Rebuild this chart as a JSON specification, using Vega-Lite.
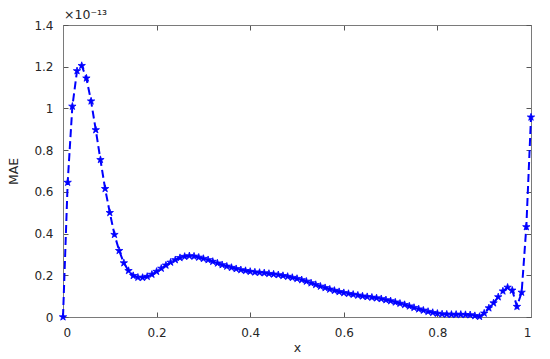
{
  "$schema": "https://vega.github.io/schema/vega-lite/v6.json",
  "width": 468,
  "height": 292,
  "autosize": "none",
  "padding": {"left": 63, "top": 25, "right": 19, "bottom": 42},
  "background": "white",
  "title": {"text": "×10⁻¹³", "anchor": "start", "frame": "group", "fontSize": 12.5, "fontWeight": "normal", "font": "DejaVu Sans", "color": "#262626", "offset": -2, "dx": 1},
  "config": {
    "view": {"stroke": "#7a7a7a", "strokeWidth": 1},
    "axis": {
      "domainColor": "#7a7a7a",
      "tickColor": "#555555",
      "grid": false,
      "labelFont": "DejaVu Sans",
      "labelFontSize": 12,
      "labelColor": "#262626",
      "titleFont": "DejaVu Sans",
      "titleFontSize": 12.5,
      "titleFontWeight": "normal",
      "titleColor": "#262626",
      "tickSize": -5
    }
  },
  "data": {"values": [
    {"x": 0.00, "mae": 0},
    {"x": 0.01, "mae": 0.645},
    {"x": 0.02, "mae": 1.01},
    {"x": 0.03, "mae": 1.18},
    {"x": 0.04, "mae": 1.205},
    {"x": 0.05, "mae": 1.145},
    {"x": 0.06, "mae": 1.035},
    {"x": 0.07, "mae": 0.897},
    {"x": 0.08, "mae": 0.754},
    {"x": 0.09, "mae": 0.615},
    {"x": 0.10, "mae": 0.50},
    {"x": 0.11, "mae": 0.395},
    {"x": 0.12, "mae": 0.318},
    {"x": 0.13, "mae": 0.259},
    {"x": 0.14, "mae": 0.222},
    {"x": 0.15, "mae": 0.198},
    {"x": 0.16, "mae": 0.190},
    {"x": 0.17, "mae": 0.189},
    {"x": 0.18, "mae": 0.194},
    {"x": 0.19, "mae": 0.204},
    {"x": 0.20, "mae": 0.218},
    {"x": 0.21, "mae": 0.233},
    {"x": 0.22, "mae": 0.248},
    {"x": 0.23, "mae": 0.262},
    {"x": 0.24, "mae": 0.274},
    {"x": 0.25, "mae": 0.284},
    {"x": 0.26, "mae": 0.290},
    {"x": 0.27, "mae": 0.293},
    {"x": 0.28, "mae": 0.291},
    {"x": 0.29, "mae": 0.286},
    {"x": 0.30, "mae": 0.280},
    {"x": 0.31, "mae": 0.274},
    {"x": 0.32, "mae": 0.266},
    {"x": 0.33, "mae": 0.258},
    {"x": 0.34, "mae": 0.250},
    {"x": 0.35, "mae": 0.243},
    {"x": 0.36, "mae": 0.237},
    {"x": 0.37, "mae": 0.231},
    {"x": 0.38, "mae": 0.226},
    {"x": 0.39, "mae": 0.222},
    {"x": 0.40, "mae": 0.218},
    {"x": 0.41, "mae": 0.215},
    {"x": 0.42, "mae": 0.213},
    {"x": 0.43, "mae": 0.211},
    {"x": 0.44, "mae": 0.208},
    {"x": 0.45, "mae": 0.205},
    {"x": 0.46, "mae": 0.202},
    {"x": 0.47, "mae": 0.198},
    {"x": 0.48, "mae": 0.194},
    {"x": 0.49, "mae": 0.189},
    {"x": 0.50, "mae": 0.184},
    {"x": 0.51, "mae": 0.178},
    {"x": 0.52, "mae": 0.171},
    {"x": 0.53, "mae": 0.163},
    {"x": 0.54, "mae": 0.155},
    {"x": 0.55, "mae": 0.147},
    {"x": 0.56, "mae": 0.140},
    {"x": 0.57, "mae": 0.133},
    {"x": 0.58, "mae": 0.127},
    {"x": 0.59, "mae": 0.121},
    {"x": 0.60, "mae": 0.116},
    {"x": 0.61, "mae": 0.112},
    {"x": 0.62, "mae": 0.108},
    {"x": 0.63, "mae": 0.104},
    {"x": 0.64, "mae": 0.100},
    {"x": 0.65, "mae": 0.097},
    {"x": 0.66, "mae": 0.094},
    {"x": 0.67, "mae": 0.091},
    {"x": 0.68, "mae": 0.087},
    {"x": 0.69, "mae": 0.082},
    {"x": 0.70, "mae": 0.077},
    {"x": 0.71, "mae": 0.071},
    {"x": 0.72, "mae": 0.065},
    {"x": 0.73, "mae": 0.059},
    {"x": 0.74, "mae": 0.052},
    {"x": 0.75, "mae": 0.045},
    {"x": 0.76, "mae": 0.038},
    {"x": 0.77, "mae": 0.032},
    {"x": 0.78, "mae": 0.026},
    {"x": 0.79, "mae": 0.021},
    {"x": 0.80, "mae": 0.017},
    {"x": 0.81, "mae": 0.014},
    {"x": 0.82, "mae": 0.013},
    {"x": 0.83, "mae": 0.012},
    {"x": 0.84, "mae": 0.012},
    {"x": 0.85, "mae": 0.012},
    {"x": 0.86, "mae": 0.011},
    {"x": 0.87, "mae": 0.010},
    {"x": 0.88, "mae": 0.006},
    {"x": 0.89, "mae": 0.002},
    {"x": 0.90, "mae": 0.018},
    {"x": 0.91, "mae": 0.043},
    {"x": 0.92, "mae": 0.067},
    {"x": 0.93, "mae": 0.096},
    {"x": 0.94, "mae": 0.124},
    {"x": 0.95, "mae": 0.142},
    {"x": 0.96, "mae": 0.128},
    {"x": 0.97, "mae": 0.050},
    {"x": 0.98, "mae": 0.118},
    {"x": 0.99, "mae": 0.432},
    {"x": 1.00, "mae": 0.958}
  ]},
  "resolve": {"axis": {"x": "independent", "y": "independent"}},
  "layer": [
    {
      "mark": {"type": "line", "opacity": 0},
      "encoding": {
        "x": {"field": "x", "type": "quantitative", "scale": {"domain": [0, 1], "nice": false, "zero": false},
              "axis": {"orient": "top", "labels": false, "title": null, "values": [0, 0.2, 0.4, 0.6, 0.8, 1]}},
        "y": {"field": "mae", "type": "quantitative", "scale": {"domain": [0, 1.4], "nice": false},
              "axis": {"orient": "right", "labels": false, "title": null, "values": [0, 0.2, 0.4, 0.6, 0.8, 1, 1.2, 1.4]}}
      }
    },
    {
      "mark": {"type": "line", "color": "#0000ff", "strokeWidth": 2, "strokeDash": [8, 4]},
      "encoding": {
        "x": {"field": "x", "type": "quantitative", "scale": {"domain": [0, 1], "nice": false, "zero": false},
              "axis": {"orient": "bottom", "title": "x", "format": "~g", "values": [0, 0.2, 0.4, 0.6, 0.8, 1], "labelPadding": 15, "titlePadding": 3}},
        "y": {"field": "mae", "type": "quantitative", "scale": {"domain": [0, 1.4], "nice": false},
              "axis": {"orient": "left", "title": "MAE", "format": "~g", "values": [0, 0.2, 0.4, 0.6, 0.8, 1, 1.2, 1.4], "labelPadding": 15, "titlePadding": 13}}
      }
    },
    {
      "mark": {"type": "point", "shape": "M0,-1L0.225,-0.309L0.951,-0.309L0.363,0.118L0.588,0.809L0,0.382L-0.588,0.809L-0.363,0.118L-0.951,-0.309L-0.225,-0.309Z", "filled": true, "color": "#0000ff", "size": 60, "opacity": 1, "strokeWidth": 0.8, "stroke": "#0000ff"},
      "encoding": {
        "x": {"field": "x", "type": "quantitative", "scale": {"domain": [0, 1], "nice": false, "zero": false}, "axis": null},
        "y": {"field": "mae", "type": "quantitative", "scale": {"domain": [0, 1.4], "nice": false}, "axis": null}
      }
    }
  ]
}
